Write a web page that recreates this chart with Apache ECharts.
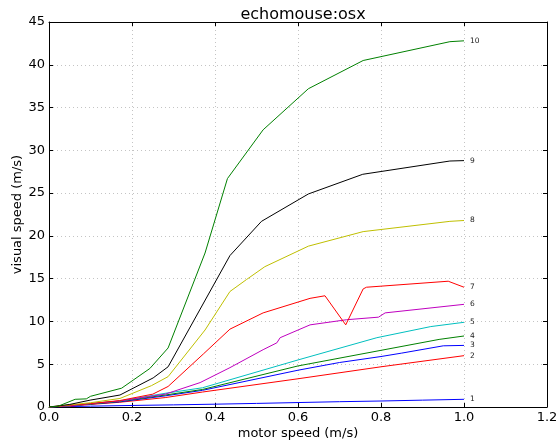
<!DOCTYPE html>
<html>
<head>
<meta charset="utf-8">
<script src="https://cdn.jsdelivr.net/npm/echarts@6/dist/echarts.min.js"></script>
<style>
html,body{margin:0;padding:0;background:#fff;}
#chart{width:559px;height:444px;}
</style>
</head>
<body>
<div id="chart"></div>
<script>
const titleText = "echomouse:osx";
const xName = "motor speed (m/s)";
const yName = "visual speed (m/s)";
const xTicks = [0, 0.2, 0.4, 0.6, 0.8, 1.0, 1.2];
const yTicks = [0, 5, 10, 15, 20, 25, 30, 35, 40, 45];

const names = ["1","2","3","4","5","6","7","8","9","10"];
const colors = ["#0000ff","#ff0000","#0000ff","#008000","#00bfbf","#bf00bf","#ff0000","#bfbf00","#000000","#008000"];

const s1x = [0, 0.05, 0.1, 0.2, 0.3, 0.4, 0.5, 0.6, 0.7, 0.8, 0.9, 1.0];
const s1y = [0, 0.05, 0.1, 0.18, 0.25, 0.33, 0.42, 0.52, 0.62, 0.7, 0.8, 0.9];

const s2x = [0, 0.05, 0.1, 0.17, 0.28, 0.37, 0.6, 0.8, 1.0];
const s2y = [0, 0.1, 0.3, 0.55, 1.1, 1.75, 3.3, 4.7, 6.0];

const s3x = [0, 0.05, 0.1, 0.17, 0.28, 0.37, 0.6, 0.7, 0.8, 0.85, 0.95, 1.0];
const s3y = [0, 0.15, 0.35, 0.6, 1.3, 1.95, 4.3, 5.2, 5.9, 6.3, 7.15, 7.2];

const s4x = [0, 0.05, 0.1, 0.17, 0.28, 0.37, 0.6, 0.94, 1.0];
const s4y = [0, 0.15, 0.35, 0.65, 1.4, 2.05, 4.8, 7.9, 8.3];

const s5x = [0, 0.05, 0.1, 0.17, 0.28, 0.37, 0.6, 0.79, 0.92, 1.0];
const s5y = [0, 0.15, 0.4, 0.7, 1.6, 2.25, 5.5, 8.1, 9.4, 9.9];

const s6x = [0, 0.05, 0.1, 0.17, 0.28, 0.364, 0.436, 0.516, 0.549, 0.557, 0.629, 0.717, 0.794, 0.81, 1.0];
const s6y = [0, 0.15, 0.4, 0.7, 1.5, 2.85, 4.6, 6.7, 7.5, 8.1, 9.6, 10.2, 10.5, 11.0, 12.0];

const s7x = [0, 0.05, 0.1, 0.17, 0.25, 0.287, 0.372, 0.436, 0.516, 0.629, 0.665, 0.715, 0.757, 0.765, 0.962, 1.0];
const s7y = [0, 0.2, 0.4, 0.75, 1.5, 2.4, 6.2, 9.1, 11.0, 12.7, 13.0, 9.6, 13.8, 14.0, 14.7, 14.0];

const s8x = [0, 0.05, 0.1, 0.171, 0.247, 0.287, 0.376, 0.436, 0.476, 0.52, 0.625, 0.757, 0.966, 1.0];
const s8y = [0, 0.25, 0.5, 1.0, 2.5, 3.55, 9.0, 13.5, 14.9, 16.4, 18.8, 20.5, 21.7, 21.8];

const s9x = [0, 0.05, 0.099, 0.171, 0.251, 0.287, 0.436, 0.512, 0.625, 0.756, 0.966, 1.0];
const s9y = [0, 0.3, 0.8, 1.4, 3.4, 4.7, 17.7, 21.7, 24.9, 27.2, 28.75, 28.8];

const s10x = [0, 0.02, 0.063, 0.09, 0.1, 0.175, 0.243, 0.287, 0.376, 0.43, 0.516, 0.625, 0.757, 0.966, 1.0];
const s10y = [0, 0.05, 0.9, 0.95, 1.25, 2.2, 4.5, 6.9, 18.0, 26.7, 32.4, 37.2, 40.5, 42.7, 42.8];

const allX = [s1x, s2x, s3x, s4x, s5x, s6x, s7x, s8x, s9x, s10x];
const allY = [s1y, s2y, s3y, s4y, s5y, s6y, s7y, s8y, s9y, s10y];

const FONT = "'DejaVu Sans', 'Noto Sans', sans-serif";
const gridLine = {show: true, lineStyle: {color: "#c4c4c4", type: [1, 3], width: 1}};

const series = names.map((n, i) => ({
  name: n,
  type: "line",
  xAxisIndex: 0,
  yAxisIndex: 0,
  data: allX[i].map((x, k) => [x, allY[i][k]]),
  showSymbol: false,
  symbol: "none",
  lineStyle: {color: colors[i], width: 1},
  itemStyle: {color: colors[i]},
  animation: false,
  endLabel: {show: true, formatter: n, color: "#222", fontSize: 7.5, fontFamily: FONT, distance: 6}
}));

const chart = echarts.init(document.getElementById("chart"), null, {renderer: "canvas"});
chart.setOption({
  animation: false,
  backgroundColor: "#ffffff",
  title: {text: titleText, left: 298, textAlign: "center", top: 2, textStyle: {fontFamily: FONT, fontSize: 16, fontWeight: "normal", color: "#000"}},
  grid: {left: 49, right: 12, top: 22, bottom: 37, containLabel: false, outerBoundsMode: "none"},
  xAxis: [
    {type: "value", min: xTicks[0], max: xTicks[xTicks.length - 1], interval: 0.2,
     name: xName, nameLocation: "middle", nameGap: 20, nameMoveOverlap: false,
     nameTextStyle: {fontFamily: FONT, fontSize: 13, color: "#000"},
     axisLine: {show: true, onZero: false, lineStyle: {color: "#000", width: 1}},
     axisTick: {show: true, inside: true, length: 4, lineStyle: {color: "#000"}},
     axisLabel: {fontFamily: FONT, fontSize: 13, color: "#000", margin: 4, formatter: v => v.toFixed(1)},
     splitLine: gridLine},
    {type: "value", position: "top", min: xTicks[0], max: xTicks[xTicks.length - 1], interval: 0.2,
     axisLine: {show: true, onZero: false, lineStyle: {color: "#000", width: 1}},
     axisTick: {show: true, inside: true, length: 4, lineStyle: {color: "#000"}},
     axisLabel: {show: false}, splitLine: {show: false}}
  ],
  yAxis: [
    {type: "value", min: yTicks[0], max: yTicks[yTicks.length - 1], interval: 5,
     name: yName, nameLocation: "middle", nameGap: 25, nameMoveOverlap: false,
     nameTextStyle: {fontFamily: FONT, fontSize: 13, color: "#000"},
     axisLine: {show: true, onZero: false, lineStyle: {color: "#000", width: 1}},
     axisTick: {show: true, inside: true, length: 4, lineStyle: {color: "#000"}},
     axisLabel: {fontFamily: FONT, fontSize: 13, color: "#000", margin: 4},
     splitLine: gridLine},
    {type: "value", position: "right", min: yTicks[0], max: yTicks[yTicks.length - 1], interval: 5,
     axisLine: {show: true, onZero: false, lineStyle: {color: "#000", width: 1}},
     axisTick: {show: true, inside: true, length: 4, lineStyle: {color: "#000"}},
     axisLabel: {show: false}, splitLine: {show: false}}
  ],
  series: series
});
</script>
</body>
</html>
